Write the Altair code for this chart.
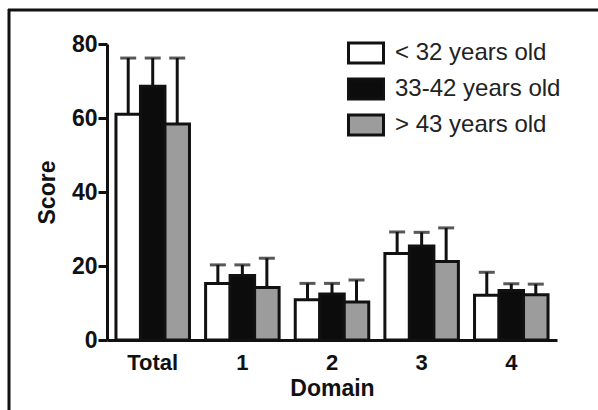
import altair as alt
import pandas as pd

domains = ["Total", "1", "2", "3", "4"]
groups = ["< 32 years old", "33-42 years old", "> 43 years old"]
means_young = [61, 15.3, 10.9, 23.4, 12.1]
means_mid = [68.6, 17.4, 12.4, 25.4, 13.4]
means_old = [58.4, 14.2, 10.3, 21.2, 12.2]
upper_young = [76.2, 20.3, 15.3, 29.2, 18.3]
upper_mid = [76.2, 20.3, 15.3, 29.1, 15.2]
upper_old = [76.2, 22.1, 16.2, 30.3, 15.1]
colors = ["#ffffff", "#0c0c0c", "#9c9c9c"]

rows = []
for g, m, u in zip(groups, [means_young, means_mid, means_old],
                   [upper_young, upper_mid, upper_old]):
    for d, mv, uv in zip(domains, m, u):
        rows.append({"Domain": d, "Group": g, "Score": mv, "Upper": uv})
df = pd.DataFrame(rows)

FONT = "Liberation Sans"

xenc = alt.X("Domain:N", sort=domains,
             scale=alt.Scale(paddingInner=0.18, paddingOuter=0.1),
             axis=alt.Axis(title="Domain", labelAngle=0, ticks=False,
                           labelFontSize=22, labelFontWeight="bold",
                           labelPadding=12, titleFontSize=23,
                           titleFontWeight="bold", titlePadding=4,
                           domainWidth=3, domainColor="#111",
                           labelColor="#111", titleColor="#111"))
xoff = alt.XOffset("Group:N", sort=groups,
                   scale=alt.Scale(paddingInner=0, paddingOuter=0))

sym = "M-1.75,-1L1.75,-1L1.75,1L-1.75,1Z"

bars = alt.Chart(df).mark_bar(stroke="#111", strokeWidth=3).encode(
    x=xenc,
    xOffset=xoff,
    y=alt.Y("Score:Q",
            scale=alt.Scale(domain=[0, 80], nice=False),
            axis=alt.Axis(values=[0, 20, 40, 60, 80], grid=False,
                          tickSize=9, tickWidth=3, tickColor="#111",
                          domainWidth=3, domainColor="#111",
                          labelFontSize=23, labelFontWeight="bold",
                          labelPadding=1, labelColor="#111",
                          title="Score", titleFontSize=23,
                          titleFontWeight="bold", titlePadding=12,
                          titleColor="#111")),
    fill=alt.Fill("Group:N", sort=groups,
                  scale=alt.Scale(domain=groups, range=colors),
                  legend=alt.Legend(title=None, orient="none",
                                    legendX=247, legendY=-3,
                                    symbolType=sym, symbolSize=400,
                                    symbolStrokeColor="#111",
                                    symbolStrokeWidth=3,
                                    symbolOpacity=1,
                                    labelFontSize=24, labelFont=FONT,
                                    labelColor="#222", labelOffset=17,
                                    labelLimit=400,
                                    rowPadding=4, padding=0)),
)

err = alt.Chart(df).mark_rule(color="#111", strokeWidth=3).encode(
    x=xenc, xOffset=xoff, y="Score:Q", y2="Upper:Q")

caps = alt.Chart(df).mark_tick(color="#111", thickness=3, size=16).encode(
    x=xenc, xOffset=xoff, y="Upper:Q")

frame_df = pd.DataFrame({"k": [0]})
frame_top = alt.Chart(frame_df).mark_rule(color="#111", strokeWidth=3).encode(
    x=alt.value(-99), x2=alt.value(495), y=alt.value(-34))
frame_left = alt.Chart(frame_df).mark_rule(color="#111", strokeWidth=3).encode(
    x=alt.value(-98), y=alt.value(-35), y2=alt.value(370))

chart = alt.layer(bars, err, caps, frame_top, frame_left).properties(
    width=450, height=296,
    autosize=alt.AutoSizeParams(type="none"),
    padding={"left": 107, "top": 44, "right": 41, "bottom": 70},
).configure(font=FONT).configure_view(stroke=None)

chart.save("out.html", embed_options={"renderer": "svg", "actions": False})
